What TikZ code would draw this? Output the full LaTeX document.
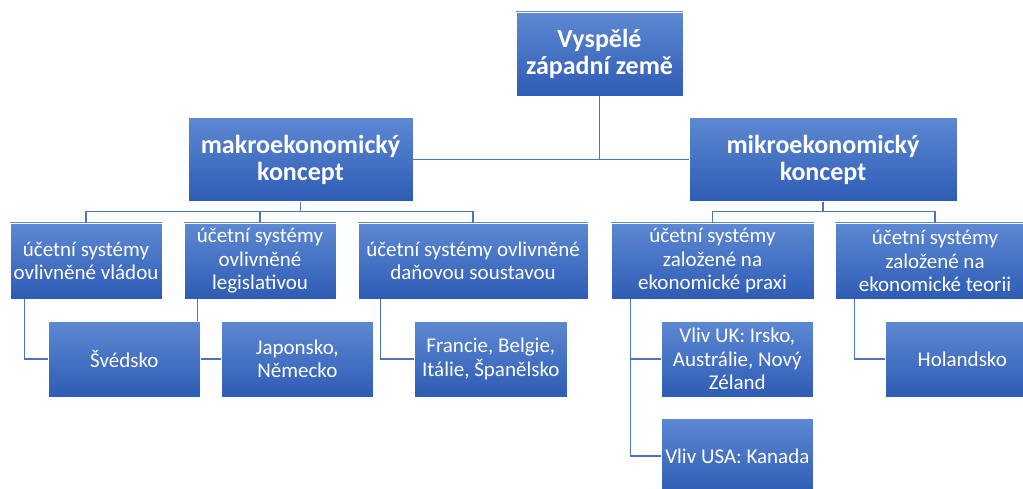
\documentclass[tikz,border=0pt]{standalone}
\usepackage{fontspec}
\setmainfont{Carlito}
\usetikzlibrary{calc}
\definecolor{ctop}{HTML}{5D88D2}
\definecolor{cbot}{HTML}{2E5CB5}
\definecolor{cline}{HTML}{4B74C1}
\tikzset{
  every picture/.style={line width=1.4pt},
  box/.style={top color=ctop, bottom color=cbot, draw=white, line width=0.6pt, text=white, align=center,
    inner sep=1pt, minimum height=76pt, font=\fontsize{21}{23.5}\selectfont},
  head/.style={box, minimum height=84pt, font=\bfseries\fontsize{26}{27}\selectfont},
  link/.style={draw=cline, line width=1.4pt},
}
\begin{document}
\begin{tikzpicture}[x=1pt, y=-1pt]
  \useasboundingbox (0,0) rectangle (1023,489);
  \clip (0,0) rectangle (1023,489);
  % top levels
  \node[head, minimum width=167pt] (root) at (599.5,54) {Vyspělé\\západní země};
  \node[head, minimum width=225pt] (makro) at (300.5,159.5) {makroekonomický\\koncept};
  \node[head, minimum width=268pt] (mikro) at (823,159.5) {mikroekonomický\\koncept};
  % second level
  \node[box, minimum width=152pt] (vlada) at (86,261) {účetní systémy\\ovlivněné vládou};
  \node[box, minimum width=152pt] (legis) at (260,261) {účetní systémy\\ovlivněné\\legislativou};
  \node[box, minimum width=230pt] (dane) at (473,261) {účetní systémy ovlivněné\\daňovou soustavou};
  \node[box, minimum width=203pt] (praxe) at (712.5,261) {účetní systémy\\založené na\\ekonomické praxi};
  \node[box, minimum width=200pt] (teorie) at (935,261) {účetní systémy\\založené na\\ekonomické teorii};
  % connectors (under the countries)
  \draw[link] (root.south) -- (root.south |- makro.east);
  \draw[link] (makro.east) -- (mikro.west);
  \draw[link] (makro.south) -- ([yshift=11pt]makro.south |- vlada.north);
  \draw[link] (vlada.north) -- ++(0,-11) -| (dane.north);
  \draw[link] (legis.north) -- ++(0,-11);
  \draw[link] (mikro.south) -- ([yshift=11pt]mikro.south |- praxe.north);
  \draw[link] (praxe.north) -- ++(0,-11) -| (teorie.north);
  \coordinate (svedin) at (48,359);
  \coordinate (japoin) at (221,359);
  \coordinate (franin) at (414,359);
  \coordinate (ukin) at (661,359);
  \coordinate (usain) at (661,456);
  \coordinate (holin) at (885,359);
  \draw[link] ([xshift=15pt]vlada.south west) |- (svedin);
  \draw[link] ([xshift=14pt]legis.south west) |- (japoin);
  \draw[link] ([xshift=23pt]dane.south west) |- (franin);
  \draw[link] ([xshift=20pt]praxe.south west) |- (ukin);
  \draw[link] ([xshift=20pt]praxe.south west) |- (usain);
  \draw[link] ([xshift=20pt]teorie.south west) |- (holin);
  % third level
  \node[box, minimum width=152pt, anchor=west] (sved) at (svedin) {Švédsko};
  \node[box, minimum width=152pt, anchor=west] (japo) at (japoin) {Japonsko,\\Německo};
  \node[box, minimum width=153pt, anchor=west] (fran) at (franin) {Francie, Belgie,\\Itálie, Španělsko};
  \node[box, minimum width=152pt, anchor=west] (uk) at (ukin) {Vliv UK: Irsko,\\Austrálie, Nový\\Zéland};
  \node[box, minimum width=152pt, anchor=west] (usa) at (usain) {Vliv USA: Kanada};
  \node[box, minimum width=154pt, anchor=west] (hol) at (holin) {Holandsko};
\end{tikzpicture}
\end{document}
